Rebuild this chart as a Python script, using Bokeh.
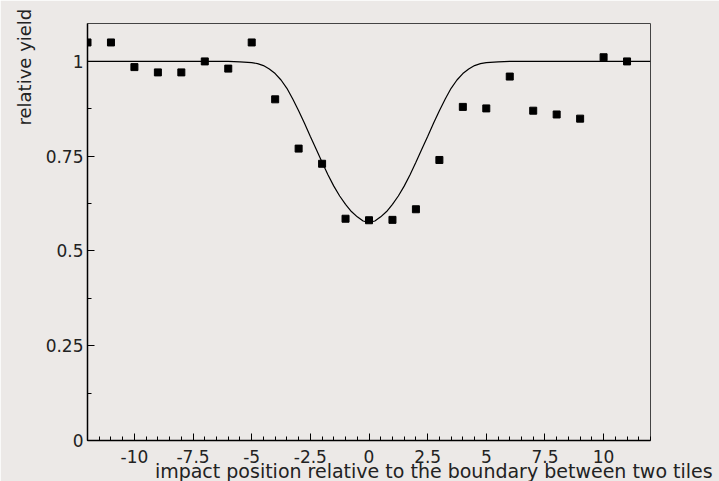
import numpy as np
from bokeh.plotting import figure
from bokeh.models import Range1d, FixedTicker, Label
from bokeh.embed import file_html
from bokeh.resources import INLINE

# ---- data ----
pos = [-12, -11, -10, -9, -8, -7, -6, -5, -4, -3, -2, -1, 0, 1, 2, 3, 4, 5, 6, 7, 8, 9, 10, 11]
yield_rel = [1.050, 1.050, 0.985, 0.971, 0.971, 1.000, 0.981, 1.050, 0.900, 0.770, 0.730, 0.585,
             0.581, 0.582, 0.610, 0.740, 0.880, 0.876, 0.960, 0.870, 0.860, 0.849, 1.011, 1.000]

# fit curve
curve_x = [-12, -6, -5.5, -5, -4.75, -4.5, -4.25, -4, -3.75, -3.5, -3.25, -3, -2.75, -2.5, -2.25,
           -2, -1.75, -1.5, -1.25, -1, -0.75, -0.5, -0.25, 0, 0.25, 0.5, 0.75, 1, 1.25, 1.5,
           1.75, 2, 2.25, 2.5, 2.75, 3, 3.25, 3.5, 3.75, 4, 4.25, 4.5, 4.75, 5, 5.5, 6, 12]
curve_y = [1.0, 1.0, 0.999, 0.997, 0.994, 0.989, 0.980, 0.968, 0.951, 0.929, 0.901, 0.870, 0.837,
           0.802, 0.768, 0.734, 0.701, 0.671, 0.645, 0.623, 0.604, 0.590, 0.579, 0.575, 0.579,
           0.590, 0.604, 0.623, 0.645, 0.671, 0.701, 0.734, 0.768, 0.802, 0.837, 0.870, 0.901,
           0.929, 0.951, 0.968, 0.980, 0.989, 0.994, 0.997, 0.999, 1.0, 1.0]

x_tick_values = [-10, -7.5, -5, -2.5, 0, 2.5, 5, 7.5, 10]
x_tick_labels = ["-10", "-7.5", "-5", "-2.5", "0", "2.5", "5", "7.5", "10"]
y_tick_values = [0, 0.25, 0.5, 0.75, 1.0]
y_tick_labels = ["0", "0.25", "0.5", "0.75", "1"]

x_title = "impact position relative to the boundary between two tiles"
y_title = "relative yield"

BG = "#ece9e7"
FONT = "DejaVu Sans"

p = figure(width=719, height=481, output_backend="svg", toolbar_location=None,
           x_range=Range1d(-12, 12), y_range=Range1d(0, 1.1),
           min_border_left=87, min_border_right=69, min_border_top=23, min_border_bottom=41)
p.background_fill_color = BG
p.border_fill_color = BG
p.outline_line_color = "#444444"
p.outline_line_width = 1
p.xgrid.visible = False
p.ygrid.visible = False

p.xaxis.ticker = FixedTicker(ticks=x_tick_values, minor_ticks=list(np.arange(-12, 12.01, 0.5)))
p.xaxis.major_label_overrides = {v: s for v, s in zip(x_tick_values, x_tick_labels)}
p.yaxis.ticker = FixedTicker(ticks=y_tick_values, minor_ticks=list(np.arange(0, 1.101, 0.125)))
p.yaxis.major_label_overrides = {v: s for v, s in zip(y_tick_values, y_tick_labels)}

for ax in (p.xaxis[0], p.yaxis[0]):
    ax.axis_line_color = "black"
    ax.axis_line_width = 1.5
    ax.major_tick_in = 7
    ax.major_tick_out = 0
    ax.minor_tick_in = 4
    ax.minor_tick_out = 0
    ax.major_tick_line_color = "black"
    ax.minor_tick_line_color = "black"
    ax.major_label_text_font = FONT
    ax.major_label_text_font_size = "17px"
    ax.major_label_text_color = "#222222"
p.xaxis.major_label_standoff = 9
p.yaxis.major_label_standoff = 4

p.line(curve_x, curve_y, line_color="black", line_width=1.2)
p.scatter(pos, yield_rel, marker="square", size=7, fill_color="black", line_color="black")

# axis titles, placed in side panels (data units -> absolute canvas position)
p.add_layout(Label(x=14.65, y=-0.0796, text=x_title,
                   text_align="right", text_baseline="alphabetic", text_font=FONT,
                   text_font_size="19px", text_color="#222222"), "above")
p.add_layout(Label(x=-14.68, y=1.139, text=y_title,
                   angle=np.pi / 2, text_align="right", text_baseline="middle", text_font=FONT,
                   text_font_size="18px", text_color="#222222"), "left")

open("out.html", "w").write(file_html(p, INLINE))
